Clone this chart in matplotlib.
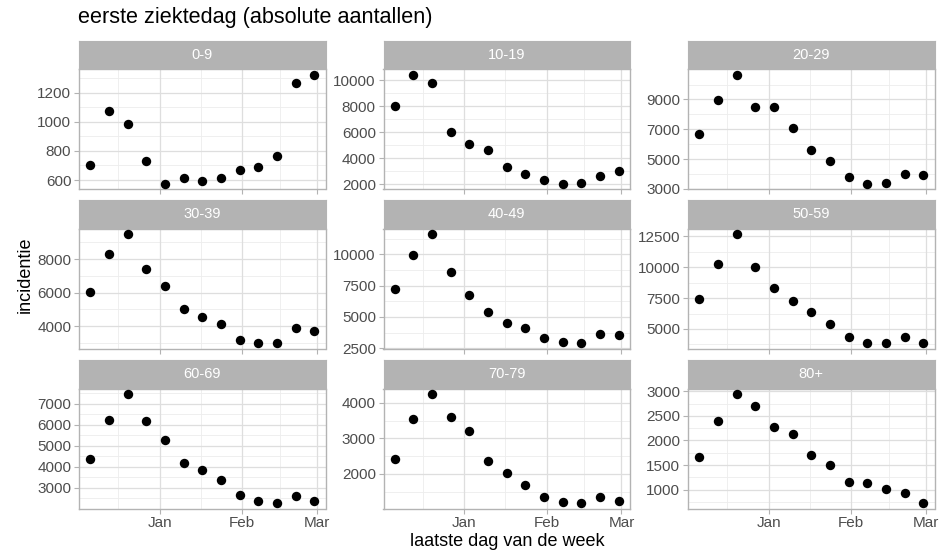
import numpy as np
import pandas as pd
import matplotlib
matplotlib.use("Agg")
import matplotlib.pyplot as plt
import matplotlib.dates as mdates

plt.rcParams['font.family'] = ['Liberation Sans', 'DejaVu Sans']

# weekly points, last day of the week (Sunday)
weeks = pd.date_range('2020-12-06', '2021-02-28', freq='7D')

groups = ['0-9', '10-19', '20-29', '30-39', '40-49', '50-59', '60-69', '70-79', '80+']

inc_0_9 = [702, 1075, 982, 733, 573, 616, 593, 616, 668, 691, 763, 1266, 1323]
inc_10_19 = [8050, 10430, 9822, 6050, 5117, 4660, 3295, 2813, 2305, 2025, 2076, 2610, 3040]
inc_20_29 = [6691, 8934, 10654, 8493, 8493, 7110, 5617, 4890, 3814, 3331, 3375, 4012, 3946]
inc_30_39 = [6059, 8296, 9497, 7409, 6374, 5024, 4532, 4118, 3172, 2975, 3015, 3882, 3685]
inc_40_49 = [7211, 9921, 11605, 8579, 6737, 5395, 4526, 4132, 3342, 2974, 2895, 3658, 3579]
inc_50_59 = [7420, 10268, 12661, 10027, 8331, 7232, 6394, 5429, 4384, 3875, 3848, 4330, 3848]
inc_60_69 = [4376, 6220, 7455, 6188, 5251, 4173, 3827, 3361, 2655, 2388, 2262, 2608, 2356]
inc_70_79 = [2407, 3537, 4241, 3602, 3213, 2352, 2019, 1694, 1352, 1213, 1176, 1361, 1241]
inc_80p = [1661, 2393, 2940, 2707, 2281, 2134, 1707, 1500, 1154, 1134, 1007, 940, 726]

yt_0_9 = [600, 800, 1000, 1200]
yt_10_19 = [2000, 4000, 6000, 8000, 10000]
yt_20_29 = [3000, 5000, 7000, 9000]
yt_30_39 = [4000, 6000, 8000]
yt_40_49 = [2500, 5000, 7500, 10000]
yt_50_59 = [5000, 7500, 10000, 12500]
yt_60_69 = [3000, 4000, 5000, 6000, 7000]
yt_70_79 = [2000, 3000, 4000]
yt_80p = [1000, 1500, 2000, 2500, 3000]

x_breaks = pd.to_datetime(['2020-12-01', '2021-01-01', '2021-02-01', '2021-03-01'])
x_labels = ['Dec', 'Jan', 'Feb', 'Mar']

values = [inc_0_9, inc_10_19, inc_20_29, inc_30_39, inc_40_49,
          inc_50_59, inc_60_69, inc_70_79, inc_80p]
yticks = [yt_0_9, yt_10_19, yt_20_29, yt_30_39, yt_40_49,
          yt_50_59, yt_60_69, yt_70_79, yt_80p]

W, H = 940, 558
fig = plt.figure(figsize=(W / 100, H / 100), dpi=100)

col_x = [79, 383.5, 688]
panel_w = 246.5
row_top = [40.7, 200, 360]
strip_h = 28.7
panel_h = 120

border = '#B3B3B3'
grid_major = '#DEDEDE'
grid_minor = '#EDEDED'

xnum = mdates.date2num(weeks)
xbreaks = mdates.date2num(x_breaks)
xr = xnum.max() - xnum.min()
xlim = (xnum.min() - 0.05 * xr, xnum.max() + 0.05 * xr)
xminor = (xbreaks[:-1] + xbreaks[1:]) / 2

# only the breaks that fall inside the panel get a tick
inside = [(b, l) for b, l in zip(xbreaks, x_labels) if xlim[0] < b < xlim[1]]
xt = [b for b, l in inside]
xl = [l for b, l in inside]


def fig_rect(x, y, w, h):
    return [x / W, 1 - (y + h) / H, w / W, h / H]


for i, (grp, vals, yt) in enumerate(zip(groups, values, yticks)):
    r, c = divmod(i, 3)
    x0 = col_x[c]
    y0 = row_top[r]

    # strip
    sax = fig.add_axes(fig_rect(x0, y0, panel_w, strip_h))
    sax.set_facecolor(border)
    sax.set_xticks([])
    sax.set_yticks([])
    for sp in sax.spines.values():
        sp.set_color(border)
    sax.text(0.5, 0.5, grp, color='white', fontsize=10.5,
             ha='center', va='center', transform=sax.transAxes)

    ax = fig.add_axes(fig_rect(x0, y0 + strip_h, panel_w, panel_h))
    v = np.array(vals, dtype=float)
    yr = v.max() - v.min()
    ylim = (v.min() - 0.05 * yr, v.max() + 0.05 * yr)

    # grid
    step = yt[1] - yt[0]
    ext = [yt[0] - step] + list(yt) + [yt[-1] + step]
    yminor = [(a + b) / 2 for a, b in zip(ext[:-1], ext[1:])]
    for ym in yminor:
        if ylim[0] < ym < ylim[1]:
            ax.axhline(ym, color=grid_minor, lw=0.6, zorder=0)
    for xm in xminor:
        if xlim[0] < xm < xlim[1]:
            ax.axvline(xm, color=grid_minor, lw=0.6, zorder=0)
    for yv in yt:
        ax.axhline(yv, color=grid_major, lw=0.9, zorder=0.5)
    for xv in xt:
        ax.axvline(xv, color=grid_major, lw=0.9, zorder=0.5)

    ax.scatter(xnum, v, s=46, color='black', zorder=3, linewidths=0)

    ax.set_xlim(xlim)
    ax.set_ylim(ylim)
    ax.set_yticks(yt)
    ax.set_yticklabels([str(t) for t in yt])
    ax.set_xticks(xt)
    if r == 2:
        ax.set_xticklabels(xl)
    else:
        ax.set_xticklabels([])
        ax.tick_params(axis='x', length=0)
    ax.tick_params(axis='both', colors=border, labelcolor='#4D4D4D',
                   labelsize=11, length=3.5, width=0.8, pad=2)
    for sp in ax.spines.values():
        sp.set_color(border)
        sp.set_linewidth(1.0)

fig.text(78 / W, 1 - 18 / H, 'eerste ziektedag (absolute aantallen)',
         fontsize=15.6, ha='left', va='center', color='black')
fig.text(507 / W, 1 - 542 / H, 'laatste dag van de week',
         fontsize=13, ha='center', va='center', color='black')
fig.text(25 / W, 1 - 275 / H, 'incidentie', rotation=90,
         fontsize=13, ha='center', va='center', color='black')

fig.savefig('out.png', dpi=100, facecolor='white')
